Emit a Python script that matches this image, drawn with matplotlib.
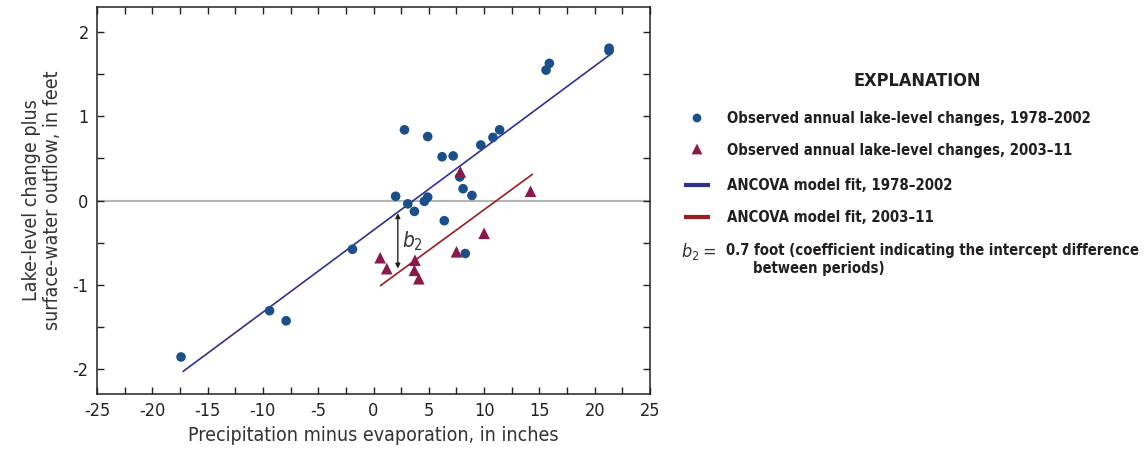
import numpy as np
import matplotlib
matplotlib.use("Agg")
import matplotlib.pyplot as plt
from matplotlib.ticker import MultipleLocator

# observed points, 1978-2002 (P-E in inches, lake change + outflow in feet)
pe_early = [-17.4, -9.4, -7.9, -1.9, 2.0, 2.8, 3.1, 3.7, 4.6, 4.9, 4.9, 6.2, 6.4, 7.2,
            7.8, 8.1, 8.3, 8.9, 9.7, 10.8, 11.4, 15.6, 15.9, 21.3, 21.3]
dl_early = [-1.86, -1.31, -1.43, -0.58, 0.05, 0.84, -0.04, -0.13, -0.01, 0.04, 0.76, 0.52,
            -0.24, 0.53, 0.28, 0.14, -0.63, 0.06, 0.66, 0.75, 0.84, 1.55, 1.63, 1.81, 1.78]

# observed points, 2003-11
pe_late = [7.85, 14.2, 10.0, 7.5, 0.6, 1.2, 3.75, 3.7, 4.1]
dl_late = [0.34, 0.11, -0.39, -0.61, -0.68, -0.81, -0.71, -0.83, -0.93]

# ANCOVA fit line end points
fit_early_x = [-17.2, 21.35]
fit_early_y = [-2.03, 1.73]
fit_late_x = [0.65, 14.35]
fit_late_y = [-1.01, 0.31]

# b2 arrow
b2_x = 2.2
b2_y = [-0.15, -0.81]

xticks = list(range(-25, 30, 5))
yticks = [-2, -1, 0, 1, 2]

blue_dot = "#1b4f8a"
blue_line = "#2e3192"
red_tri = "#8a1848"
red_line = "#9e1b20"

plt.rcParams['font.family'] = ['DejaVu Sans']
plt.rcParams['font.stretch'] = 'condensed'
plt.rcParams['axes.unicode_minus'] = False

fig = plt.figure(figsize=(11.48, 4.54), dpi=100)
ax = fig.add_axes([97 / 1148, 60 / 454, (650 - 97) / 1148, (394 - 7) / 454])

ax.axhline(0, color="#b5b5b8", lw=1.5, zorder=1)
ax.plot(fit_early_x, fit_early_y, color=blue_line, lw=1.2, zorder=2)
ax.plot(fit_late_x, fit_late_y, color=red_line, lw=1.2, zorder=2)
ax.scatter(pe_early, dl_early, s=48, color=blue_dot, edgecolors="none", zorder=3)
ax.scatter(pe_late, dl_late, s=70, marker="^", color=red_tri, edgecolors="none", zorder=4)

ax.annotate("", xy=(b2_x, b2_y[1]), xytext=(b2_x, b2_y[0]),
            arrowprops=dict(arrowstyle="<|-|>", color="#222222", lw=1.0,
                            mutation_scale=7, shrinkA=0, shrinkB=0))
ax.text(b2_x + 0.35, np.mean(b2_y), r"$b_2$", fontsize=15, color="#333333",
        va="center", ha="left")

ax.set_xlim(-25, 25)
ax.set_ylim(-2.3, 2.3)
ax.set_xticks(xticks)
ax.set_xticklabels([str(t) for t in xticks])
ax.set_yticks(yticks)
ax.set_yticklabels([str(t) for t in yticks])
ax.xaxis.set_minor_locator(MultipleLocator(2.5))
ax.yaxis.set_minor_locator(MultipleLocator(0.5))
ax.tick_params(which="both", direction="in", top=True, right=True, length=5,
               width=1, labelsize=13, colors="#222222")
ax.tick_params(which="major", pad=6)
for sp in ax.spines.values():
    sp.set_linewidth(1.1)
    sp.set_color("#222222")

ax.set_xlabel("Precipitation minus evaporation, in inches", fontsize=14, color="#333333")
ax.set_ylabel("Lake-level change plus\nsurface-water outflow, in feet", fontsize=14,
              color="#333333", linespacing=1.1, labelpad=8)

# explanation block, in pixel coordinates
leg = fig.add_axes([0, 0, 1, 1], facecolor="none")
leg.set_xlim(0, 1148)
leg.set_ylim(454, 0)
leg.axis("off")
leg.text(917, 81, "EXPLANATION", fontsize=13, fontweight="bold", ha="center",
         va="center", color="#231f20")
txt_x = 727
rows = [118, 150, 185, 217]
labels = ["Observed annual lake-level changes, 1978\u20132002",
          "Observed annual lake-level changes, 2003\u201311",
          "ANCOVA model fit, 1978\u20132002",
          "ANCOVA model fit, 2003\u201311"]
leg.scatter([697], [rows[0]], s=40, color=blue_dot, edgecolors="none")
leg.scatter([697], [rows[1] - 1], s=60, marker="^", color=red_tri, edgecolors="none")
leg.plot([686, 708], [rows[2], rows[2]], color=blue_line, lw=3)
leg.plot([686, 708], [rows[3], rows[3]], color=red_line, lw=3)
for y, lab in zip(rows, labels):
    leg.text(txt_x, y, lab, fontsize=10.7, fontweight="bold", va="center", ha="left",
             color="#231f20")
leg.text(681, 251, r"$b_2=$", fontsize=13, va="center", ha="left", color="#333333")
leg.text(726, 250, "0.7 foot (coefficient indicating the intercept difference",
         fontsize=10.6, fontweight="bold", va="center", ha="left", color="#231f20")
leg.text(753, 268, "between periods)", fontsize=10.6, fontweight="bold", va="center",
         ha="left", color="#231f20")

fig.savefig("out.png", dpi=100)
